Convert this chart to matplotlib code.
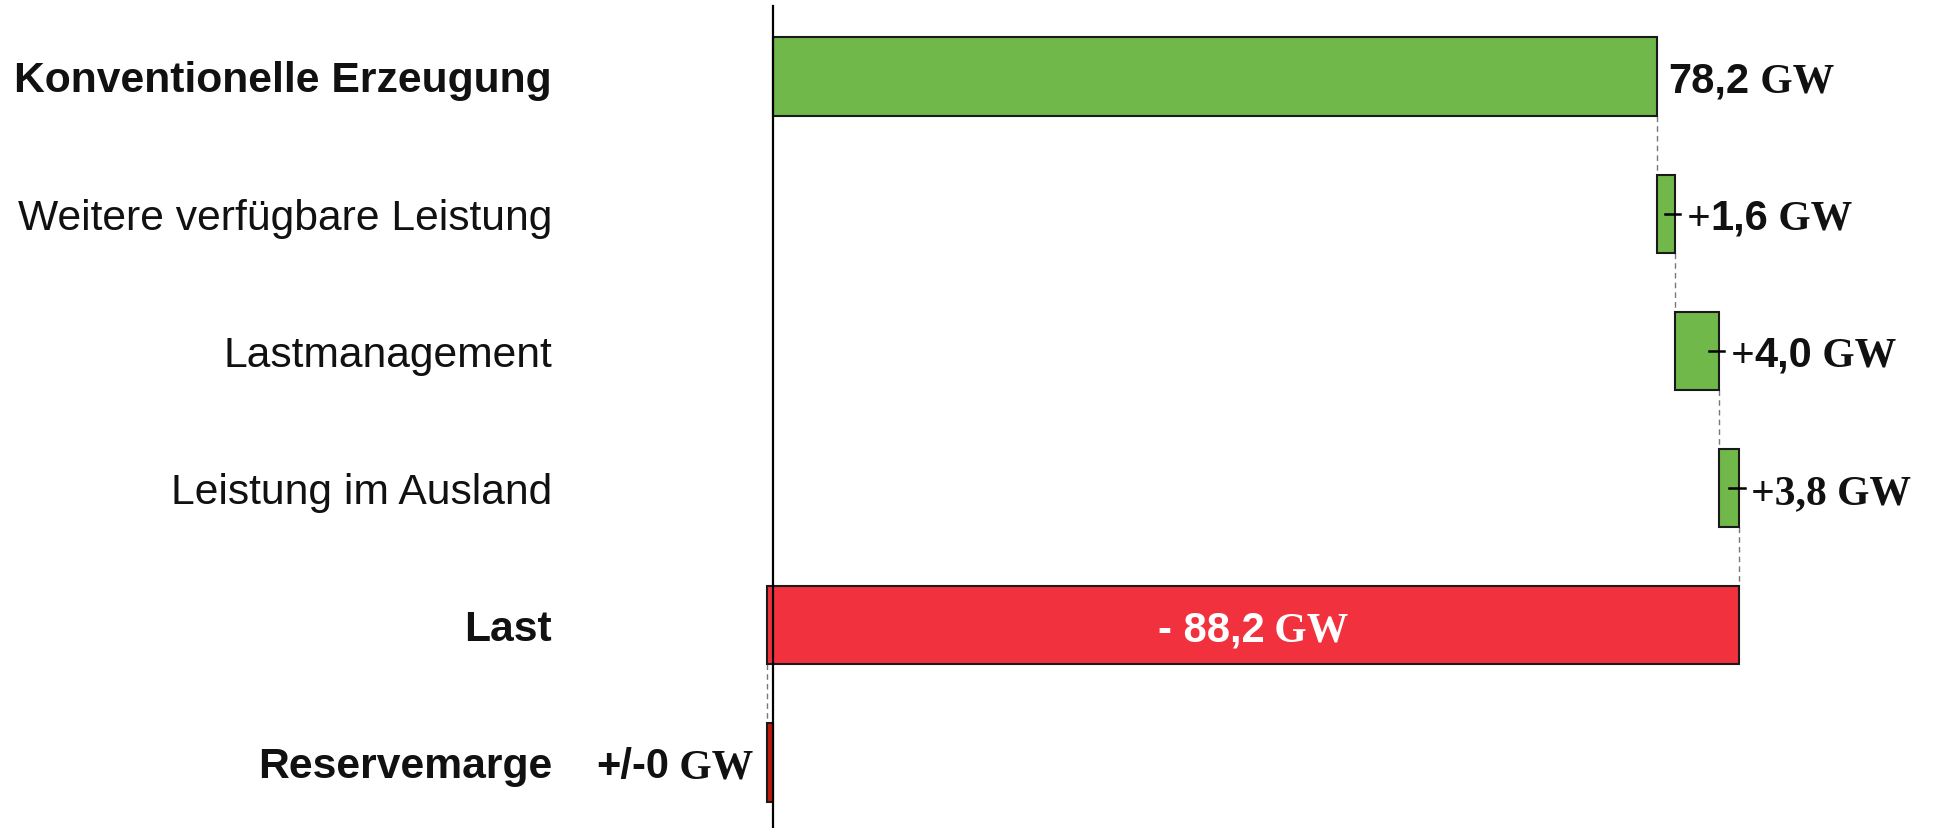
import numpy as np
import matplotlib.pyplot as plt

# values (GW), bar widths as drawn
categories = ["Konventionelle Erzeugung", "Weitere verfügbare Leistung",
              "Lastmanagement", "Leistung im Ausland", "Last", "Reservemarge"]
steps = [78.2, 1.6, 3.9, 1.8, -86.0]
bold_cat = [True, False, False, False, True, True]
# labels as printed on the chart: (text, font) pieces
SANS = "Liberation Sans"
SERIF = "Liberation Serif"
labels = [
    [("78,2", SANS), (" GW", SERIF)],
    [("+", SERIF), ("1,6", SANS), (" GW", SERIF)],
    [("+", SERIF), ("4,0", SANS), (" GW", SERIF)],
    [("+3,8 GW", SERIF)],
    [("- 88,2", SANS), (" GW", SERIF)],
    [("+/-0", SANS), (" GW", SERIF)],
]

green = "#70B84A"
red = "#F1323E"
dark_red = "#C41A0E"

fig = plt.figure(figsize=(19.37, 8.29), dpi=100)
ax = fig.add_axes([0, 0, 1, 1])
px = 11.3  # pixels per GW
x0 = 773   # pixel position of zero
row = 137.2
top = 77.5
ax.set_xlim(-x0 / px, (1937 - x0) / px)
ax.set_ylim((829 - top) / row, -top / row)
ax.axis("off")

cum = np.cumsum(steps)
starts = np.concatenate([[0], cum[:-1]])
total = cum[-1]
lefts = list(starts) + [0]
widths = list(steps) + [total]
colors = [green, green, green, green, red, dark_red]
ys = np.arange(len(categories))
h = 0.57
ax.barh(ys, widths, left=lefts, height=h, color=colors,
        edgecolor="#1a1a1a", linewidth=1.5, zorder=2)

# dashed connectors
ends = list(cum)
for i in range(len(ends)):
    ax.plot([ends[i], ends[i]], [i + h / 2, i + 1 - h / 2], color="#777777",
            lw=1.0, ls=(0, (4, 3)), zorder=1)

# short tick marks at the ends of the small bars
for i in [1, 2, 3]:
    e = cum[i]
    ax.plot([e - 0.9, e + 0.5], [i, i], color="black", lw=1.8, zorder=3)

# zero axis
ax.plot([0, 0], [-top / row + 7 / row, (829 - top) / row], color="black",
        lw=1.6, zorder=4)

fs = 30
for i, c in enumerate(categories):
    ax.annotate(c, xy=(0, i), xytext=(-221, -15), textcoords="offset pixels",
                ha="right", va="baseline", fontsize=30.7, family=SANS,
                weight="bold" if bold_cat[i] else "normal", color="#111111")

r = fig.canvas.get_renderer()


def seg_label(x, y, segs, align, color, dx):
    ws = []
    for s, fam in segs:
        t = ax.text(0, 0, s, fontsize=fs, family=fam, weight="bold")
        ws.append(t.get_window_extent(r).width)
        t.remove()
    tot = sum(ws)
    off = {"left": 0, "center": -tot / 2, "right": -tot}[align] + dx
    for (s, fam), w in zip(segs, ws):
        ax.annotate(s, xy=(x, y), xytext=(off, -15), textcoords="offset pixels",
                    ha="left", va="baseline", fontsize=fs, family=fam,
                    weight="bold", color=color, zorder=5)
        off += w


for i in range(4):
    seg_label(cum[i], i, labels[i], "left", "#111111", 12)
seg_label(starts[4] + steps[4] / 2, 4, labels[4], "center", "white", 0)
seg_label(min(0, total), 5, labels[5], "right", "#111111", -14)

fig.savefig("out.png", dpi=100)
